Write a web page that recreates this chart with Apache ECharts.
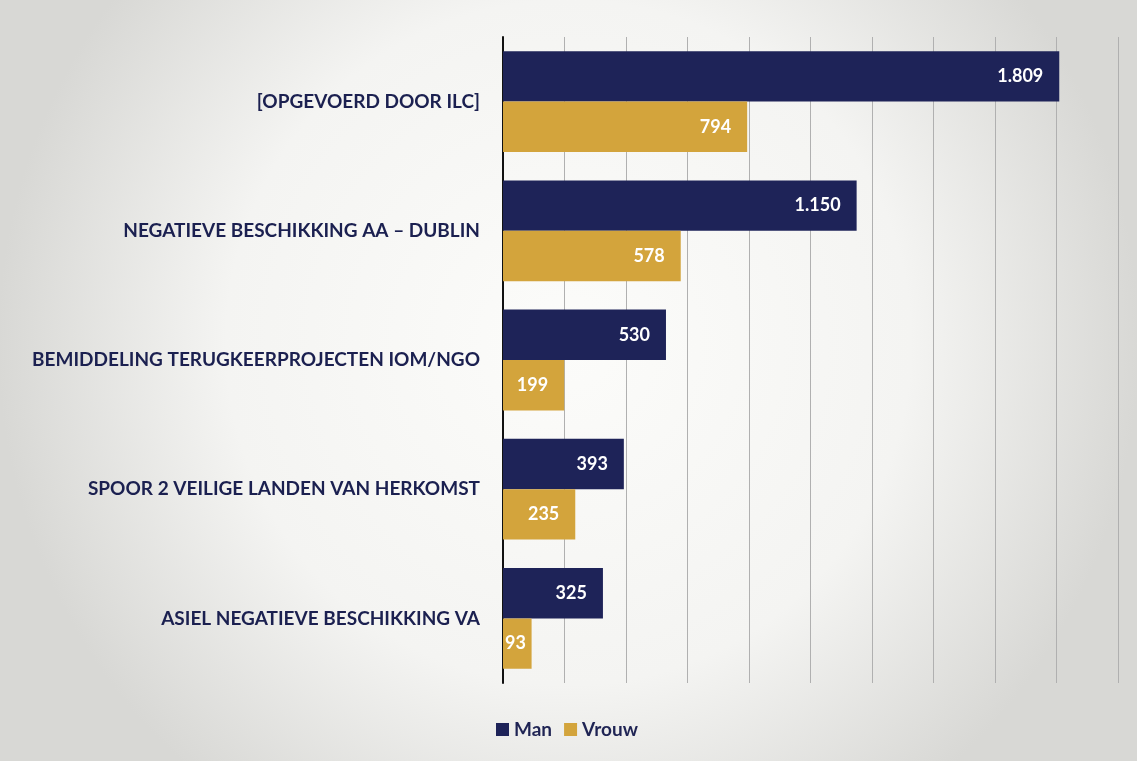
<!DOCTYPE html>
<html>
<head>
<meta charset="utf-8">
<script src="https://cdn.jsdelivr.net/npm/echarts@6/dist/echarts.min.js"></script>
<style>
html,body{margin:0;padding:0;background:#f2f2f0;}
#c{width:1137px;height:761px;}
</style>
</head>
<body>
<div id="c"></div>
<script>
const categories = [
  '[OPGEVOERD DOOR ILC]',
  'NEGATIEVE BESCHIKKING AA – DUBLIN',
  'BEMIDDELING TERUGKEERPROJECTEN IOM/NGO',
  'SPOOR 2 VEILIGE LANDEN VAN HERKOMST',
  'ASIEL NEGATIEVE BESCHIKKING VA'
];
const manValues = [1809, 1150, 530, 393, 325];
const vrouwValues = [794, 578, 199, 235, 93];
const seriesNames = ['Man', 'Vrouw'];

function fmt(v){ return String(v).replace(/\B(?=(\d{3})+(?!\d))/g, '.'); }

const labelStyle = {
  show: true, position: 'insideRight', color: '#ffffff',
  fontFamily: 'Lato', fontWeight: 'bold', fontSize: 18, distance: 16,
  formatter: p => fmt(p.value)
};
function toData(values){
  return values.map(v => v < 120
    ? {value: v, label: {position: 'insideLeft', distance: 2}}
    : v);
}

const chart = echarts.init(document.getElementById('c'));
chart.setOption({
  backgroundColor: {
    type: 'radial', x: 0.5, y: 0.45, r: 0.75,
    colorStops: [{offset: 0, color: '#fcfcfa'}, {offset: 0.6, color: '#f4f4f2'}, {offset: 1, color: '#d8d8d5'}]
  },
  animation: false,
  grid: {left: 503, right: 19, top: 37, bottom: 78, containLabel: false},
  legend: {
    data: seriesNames, bottom: 17, left: 491,
    itemWidth: 13, itemHeight: 13, itemGap: 12, icon: 'rect',
    textStyle: {fontFamily: 'Lato', fontWeight: 'bold', fontSize: 19, color: '#1f2454'}
  },
  xAxis: {
    type: 'value', min: 0, max: 2000, interval: 200,
    axisLabel: {show: false}, axisLine: {show: false}, axisTick: {show: false},
    splitLine: {show: true, lineStyle: {color: '#b0b0b0', width: 1}}
  },
  yAxis: {
    type: 'category', data: categories, inverse: true,
    axisLine: {show: true, lineStyle: {color: '#111111', width: 2}},
    axisTick: {show: false},
    axisLabel: {
      fontFamily: 'Lato', fontWeight: 'bold', fontSize: 19, color: '#1b2050', margin: 23
    }
  },
  series: [
    {name: seriesNames[0], type: 'bar', data: toData(manValues), barCategoryGap: '22%', barGap: '0%',
     itemStyle: {color: '#1e2358'}, label: labelStyle},
    {name: seriesNames[1], type: 'bar', data: toData(vrouwValues), barCategoryGap: '22%', barGap: '0%',
     itemStyle: {color: '#d3a43c'}, label: labelStyle}
  ]
});
</script>
</body>
</html>
